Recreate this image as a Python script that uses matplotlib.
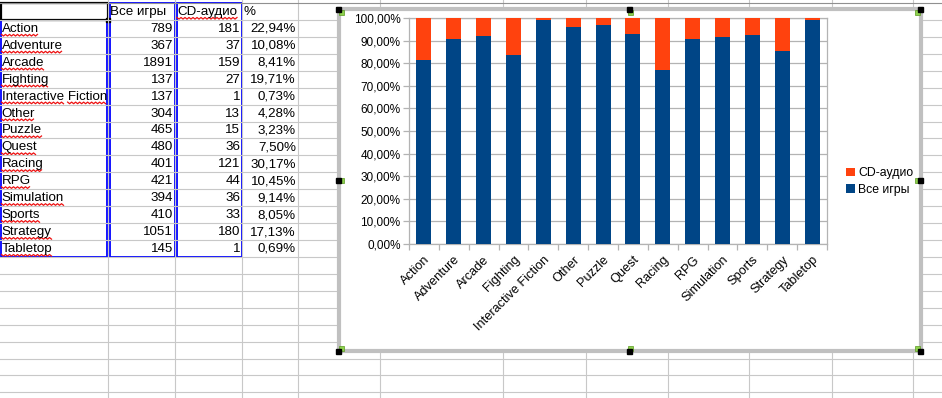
import matplotlib
matplotlib.use('Agg')
import matplotlib.pyplot as plt
import numpy as np
from matplotlib.patches import Rectangle

plt.rcParams['font.family'] = ['Liberation Sans', 'DejaVu Sans']

# data from the sheet
genres = ['Action', 'Adventure', 'Arcade', 'Fighting', 'Interactive Fiction', 'Other',
          'Puzzle', 'Quest', 'Racing', 'RPG', 'Simulation', 'Sports', 'Strategy', 'Tabletop']
all_games = [789, 367, 1891, 137, 137, 304, 465, 480, 401, 421, 394, 410, 1051, 145]
cd_audio = [181, 37, 159, 27, 1, 13, 15, 36, 121, 44, 36, 33, 180, 1]
col_all = 'Все игры'
col_cd = 'CD-аудио'

W, H = 942, 398
fig = plt.figure(figsize=(W / 100, H / 100), dpi=100)
bg = fig.add_axes([0, 0, 1, 1])
bg.set_xlim(0, W)
bg.set_ylim(H, 0)
bg.axis('off')

# spreadsheet grid
grid_c = '#c8c8c8'
top, row_h = 3, 16.93
col_x = [108, 175, 242, 298, 380, 503, 586, 668, 749, 832, 913]
for cx in col_x:
    bg.plot([cx, cx], [0, H], color=grid_c, lw=0.8)
for k in range(25):
    y = top + k * row_h
    bg.plot([0, W], [y, y], color=grid_c if k else '#909090', lw=0.8)

def row_mid(k):
    return top + (k + 0.5) * row_h + 0.5

fs = 9.6
bg.text(110, row_mid(0), col_all, fontsize=fs, va='center', ha='left')
t_cd = bg.text(177, row_mid(0), col_cd, fontsize=fs, va='center', ha='left')
bg.text(244, row_mid(0), '%', fontsize=fs, va='center', ha='left')

name_texts = []
for i, g in enumerate(genres):
    k = i + 1
    name_texts.append(bg.text(1.5, row_mid(k), g, fontsize=fs, va='center', ha='left'))
    bg.text(173, row_mid(k), str(all_games[i]), fontsize=fs, va='center', ha='right')
    bg.text(240, row_mid(k), str(cd_audio[i]), fontsize=fs, va='center', ha='right')
    pct = f'{cd_audio[i] / all_games[i] * 100:.2f}%'.replace('.', ',')
    bg.text(296, row_mid(k), pct, fontsize=fs, va='center', ha='right')

# range borders and cell cursor
bottom_y = top + 15 * row_h
blue = '#0000ff'
bg.add_patch(Rectangle((1, top + row_h), 106, bottom_y - top - row_h, fill=False, ec=blue, lw=1.3))
bg.add_patch(Rectangle((109.5, top), 65, bottom_y - top, fill=False, ec=blue, lw=1.3))
bg.add_patch(Rectangle((176.5, top), 65, bottom_y - top, fill=False, ec=blue, lw=1.3))
bg.add_patch(Rectangle((0.8, top), 107, row_h, fill=False, ec='black', lw=1.6))
bg.add_patch(Rectangle((106, top + row_h - 2), 4, 4, color='black'))

# spell-check wavy underlines
fig.canvas.draw()
r = fig.canvas.get_renderer()
inv = bg.transData.inverted()

def wavy(x0, x1, y):
    xs = np.arange(x0, x1 + 0.1, 2)
    ys = y + np.where(np.arange(len(xs)) % 2 == 0, 0, 1.6)
    bg.plot(xs, ys, color='#ee1111', lw=0.9)

def underline(t):
    bb = t.get_window_extent(r)
    (x0, y0), (x1, y1) = inv.transform([[bb.x0, bb.y0], [bb.x1, bb.y1]])
    ybase = max(y0, y1) - 0.5
    s = t.get_text()
    if ' ' in s:
        tmp = bg.text(x0, 0, s.split(' ')[0], fontsize=fs)
        b2 = tmp.get_window_extent(r)
        xm = inv.transform([[b2.x1, b2.y0]])[0][0]
        tmp.remove()
        wavy(x0, xm, ybase)
        wavy(xm + 4, x1, ybase)
    else:
        wavy(x0, x1, ybase)

for t in name_texts:
    underline(t)
underline(t_cd)

# chart frame
fx0, fy0, fx1, fy1 = 338.5, 9, 920.5, 351
bg.add_patch(Rectangle((fx0, fy0), fx1 - fx0, fy1 - fy0, fc='white', ec='#c0c0c0', lw=3, zorder=5))
for hx, hy in [(fx0, fy0), ((fx0 + fx1) / 2, fy0), (fx1, fy0), (fx0, (fy0 + fy1) / 2),
               (fx1, (fy0 + fy1) / 2), (fx0, fy1), ((fx0 + fx1) / 2, fy1), (fx1, fy1)]:
    gx = hx + (3 if hx < 600 else -3) if hx != (fx0 + fx1) / 2 else hx + 1
    gy = hy + (3 if hy < 180 else -3) if hy != (fy0 + fy1) / 2 else hy
    bg.add_patch(Rectangle((gx - 2.5, gy - 2.5), 5, 5, fc='#8fd14f', ec='#5a9a20', lw=0.5, zorder=6))
    bg.add_patch(Rectangle((hx - 2.5, hy - 2.5), 5, 5, color='black', zorder=7))

# chart
px0, px1, py0, py1 = 409, 827, 18, 244
ax = fig.add_axes([px0 / W, 1 - py1 / H, (px1 - px0) / W, (py1 - py0) / H])
tot = np.array(all_games) + np.array(cd_audio)
share_all = np.array(all_games) / tot
share_cd = np.array(cd_audio) / tot
x = np.arange(len(genres))
ax.bar(x, share_all, width=0.5, color='#004586', label=col_all, zorder=3)
ax.bar(x, share_cd, width=0.5, bottom=share_all, color='#ff420e', label=col_cd, zorder=3)
ax.set_xlim(-0.5, len(genres) - 0.5)
ax.set_ylim(0, 1)
yt = np.arange(0, 1.01, 0.1)
ax.set_yticks(yt)
ax.set_yticklabels([f'{v * 100:.2f}%'.replace('.', ',') for v in yt], fontsize=8.5)
ax.yaxis.grid(True, color='#b3b3b3', lw=0.9, zorder=0)
ax.set_xticks(x)
ax.set_xticklabels(genres, rotation=45, ha='right', va='top', rotation_mode='anchor', fontsize=9.2)
ax.set_xticks(np.arange(-0.5, len(genres)), minor=True)
ax.tick_params(axis='x', which='major', length=0, pad=7)
ax.tick_params(axis='x', which='minor', length=4, color='#b3b3b3', width=0.9)
ax.tick_params(axis='y', length=4, color='#b3b3b3', width=0.9, pad=2)
for s in ax.spines.values():
    s.set_color('#b3b3b3')
    s.set_linewidth(0.9)

h, l = ax.get_legend_handles_labels()
ax.legend(h[::-1], l[::-1], loc='center left', bbox_to_anchor=(840 / W, 1 - 181.5 / H),
          bbox_transform=fig.transFigure, frameon=False, fontsize=8.8,
          handlelength=0.7, handleheight=0.7, handletextpad=0.3, labelspacing=0.4,
          borderpad=0)

fig.savefig('out.png', dpi=100)
